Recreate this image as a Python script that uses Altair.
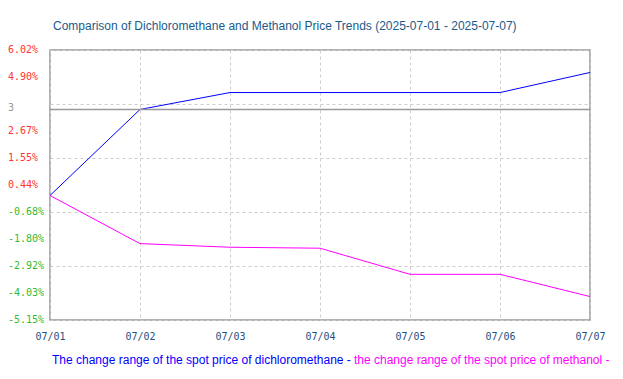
import altair as alt
import pandas as pd

dates = ["07/01", "07/02", "07/03", "07/04", "07/05", "07/06", "07/07"]
dcm = [0.0, 3.56, 4.26, 4.26, 4.26, 4.26, 5.09]
meoh = [0.0, -1.99, -2.14, -2.18, -3.26, -3.26, -4.18]
y_ticks = [6.02, 4.90, 3.78, 2.67, 1.55, 0.44, -0.68, -1.80, -2.92, -4.03, -5.15]
y_labels = ["6.02%", "4.90%", "", "2.67%", "1.55%", "0.44%", "-0.68%", "-1.80%", "-2.92%", "-4.03%", "-5.15%"]
ref_value = 3.56
ref_label = "3"
title_text = "Comparison of Dichloromethane and Methanol Price Trends (2025-07-01 - 2025-07-07)"
legend1 = "The change range of the spot price of dichloromethane - "
legend2 = "the change range of the spot price of methanol -"
series_names = ["dichloromethane", "methanol"]
series_colors = ["#0000ff", "#ff00ff"]

rows = []
for d, v in zip(dates, dcm):
    rows.append({"date": d, "value": v, "series": series_names[0]})
for d, v in zip(dates, meoh):
    rows.append({"date": d, "value": v, "series": series_names[1]})
df = pd.DataFrame(rows)

yscale = alt.Scale(domain=[-5.15, 6.02], nice=False, zero=False)
sans = "Liberation Sans, Arial, sans-serif"
mono = "DejaVu Sans Mono"

lines = alt.Chart(df).mark_line(strokeWidth=1).encode(
    x=alt.X("date:N", sort=dates, scale=alt.Scale(type="point", padding=0),
            axis=alt.Axis(title=None, labelAngle=0, ticks=False, domain=False,
                          grid=True, gridColor="#cccccc", gridDash=[3, 3],
                          labelFont=mono, labelFontSize=10, labelOverlap=False,
                          labelColor="#1f5080", labelPadding=11)),
    y=alt.Y("value:Q", scale=yscale,
            axis=alt.Axis(title=None, values=y_ticks, ticks=False, domain=False, labels=False,
                          grid=True, gridColor="#cccccc", gridDash=[3, 3])),
    color=alt.Color("series:N", scale=alt.Scale(domain=series_names, range=series_colors), legend=None),
)

ylab_df = pd.DataFrame({"v": y_ticks, "label": y_labels})
ylabs = alt.Chart(ylab_df).mark_text(align="left", baseline="middle", font=mono, fontSize=10).encode(
    x=alt.value(-42), y=alt.Y("v:Q", scale=yscale), text="label:N",
    color=alt.condition("datum.v < 0", alt.value("#33bb33"), alt.value("#ff3333")),
)

ref_df = pd.DataFrame({"v": [ref_value], "label": [ref_label]})
rule = alt.Chart(ref_df).mark_rule(color="#999999", strokeWidth=1.5).encode(
    y=alt.Y("v:Q", scale=yscale)
)
ref_text = alt.Chart(ref_df).mark_text(align="left", baseline="middle", dy=-1.5,
                                       font=mono, fontSize=10, color="#999999").encode(
    x=alt.value(-42), y=alt.Y("v:Q", scale=yscale), text="label:N"
)

one = pd.DataFrame({"t": [title_text], "a": [legend1], "b": [legend2]})
title = alt.Chart(one).mark_text(align="left", baseline="middle", font=sans, fontSize=12,
                                 color="#1a5a8c").encode(
    x=alt.value(3), y=alt.value(-24), text="t:N"
)
leg1 = alt.Chart(one).mark_text(align="left", baseline="middle", font=sans, fontSize=12,
                                color="#0000ff").encode(
    x=alt.value(2), y=alt.value(310), text="a:N"
)
leg2 = alt.Chart(one).mark_text(align="left", baseline="middle", font=sans, fontSize=12,
                                color="#ff00ff").encode(
    x=alt.value(304), y=alt.value(310), text="b:N"
)

chart = alt.layer(lines, rule, ylabs, ref_text, title, leg1, leg2).properties(
    width=540, height=270,
    autosize=alt.AutoSizeParams(type="none"),
    padding={"left": 42, "top": 42, "right": 25, "bottom": 50},
).configure_view(stroke="#999999", strokeWidth=1.5)

chart.save("out.html", embed_options={"renderer": "svg", "actions": False})
